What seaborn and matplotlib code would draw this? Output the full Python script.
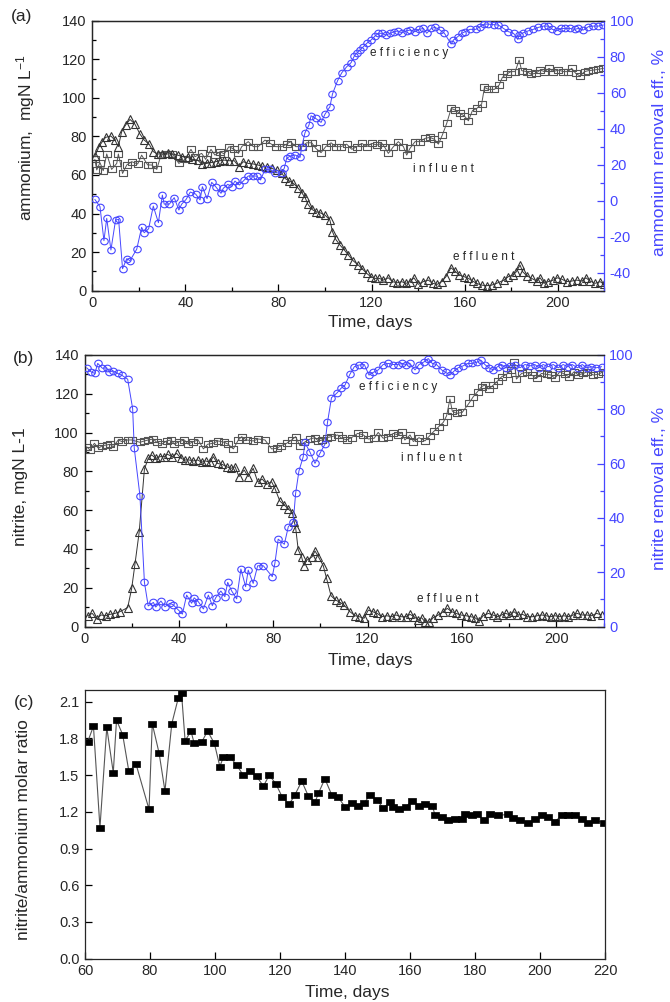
import matplotlib
matplotlib.use("Agg")
import matplotlib.pyplot as plt
from matplotlib.path import Path
from matplotlib.ticker import MultipleLocator
import seaborn as sns

# ---------------- panel (a): ammonium ----------------
a_inf_day = [1.1, 1.9, 3.3, 4.7, 6.2, 8.3, 10.5, 11.2, 13.0, 14.8, 16.9, 19.5, 21.2, 23.8, 25.5, 27.7,
             29.5, 31.9, 34.4, 37.2, 39.8, 42.4, 44.1, 47.0, 48.7, 51.0, 52.7, 54.9, 56.7, 58.7, 61.0,
             62.8, 64.2, 67.0, 69.2, 71.3, 74.2, 76.4, 78.8, 81.4, 83.5, 85.2, 87.4, 90.0, 92.1, 94.3,
             96.0, 98.3, 100.3, 102.6, 104.6, 106.9, 109.3, 111.5, 113.6, 115.8, 117.9, 120.1, 122.2,
             124.4, 125.5, 127.2, 129.4, 131.5, 133.7, 135.1, 136.5, 138.7, 140.8, 143.0, 145.1, 147.0,
             148.7, 150.4, 152.3, 154.2, 155.9, 158.0, 159.9, 161.6, 163.3, 165.2, 167.3, 168.5, 170.2,
             172.8, 174.8, 176.2, 178.1, 179.8, 181.7, 183.4, 184.5, 186.7, 188.5, 190.5, 192.4, 194.3,
             196.3, 198.1, 200.3, 202.4, 204.3, 206.0, 207.7, 209.6, 211.5, 213.2, 215.3, 217.5, 219.6]
a_inf_val = [68.1, 62.6, 66.4, 62.2, 70.9, 62.9, 66.0, 70.9, 60.8, 65.2, 66.9, 65.7, 70.3, 65.2, 65.2, 62.9,
             70.3, 70.9, 70.9, 66.0, 68.1, 73.3, 69.5, 71.2, 68.1, 73.3, 70.3, 72.1, 70.9, 74.7, 73.3,
             71.2, 74.7, 77.3, 74.7, 74.7, 78.1, 76.4, 74.7, 74.7, 76.0, 77.3, 74.7, 74.7, 76.7, 76.7,
             73.8, 71.6, 74.7, 76.7, 74.7, 74.7, 76.0, 73.3, 74.7, 76.4, 74.7, 76.4, 75.5,
             76.4, 74.7, 71.2, 74.7, 77.3, 74.7, 70.3, 73.8, 77.3, 77.3, 79.0, 79.5, 78.5,
             76.0, 80.7, 86.8, 94.5, 93.7, 91.9, 90.6, 88.1, 93.3, 94.5, 96.8, 105.4, 104.4,
             104.4, 106.6, 110.6, 112.3, 113.6, 113.6, 119.6, 114.1, 113.6, 112.3, 112.7, 114.4, 113.6,
             115.3, 113.6, 114.4, 113.6, 113.6, 115.3, 112.7, 111.3, 113.6, 114.1, 114.4, 114.8, 115.3]

a_eff_day = [1.1, 2.9, 4.3, 5.7, 8.0, 9.7, 11.2, 12.6, 14.3, 16.2, 18.3, 20.5, 22.3, 24.4, 26.2, 28.1,
             30.1, 32.4, 34.4, 36.7, 38.7, 41.0, 43.0, 45.3, 47.0, 49.1, 51.0, 53.0, 54.9, 56.7, 58.7,
             61.0, 63.0, 64.9, 67.0, 69.2, 71.1, 72.8, 74.9, 77.1, 79.2, 81.4, 82.8, 84.5, 86.4, 88.5,
             90.0, 91.4, 92.6, 94.3, 96.0, 97.9, 100.0, 102.1, 103.2, 104.6, 106.4, 108.3, 110.0,
             112.2, 114.3, 116.1, 117.9, 119.6, 121.4, 123.3, 125.0, 127.2, 129.0, 131.0, 132.9,
             134.8, 136.5, 138.2, 140.1, 142.2, 144.4, 146.2, 148.2, 150.1, 152.0, 154.1, 155.8,
             157.7, 159.7, 161.6, 163.4, 165.1, 167.3, 169.4, 171.6, 173.7, 176.9, 178.8, 180.6,
             182.0, 183.8, 184.9, 186.6, 188.8, 190.9, 192.4, 194.1, 195.9, 198.1, 199.8, 201.7,
             203.8, 206.0, 208.1, 210.3, 212.1, 213.9, 216.0, 218.2, 219.9]
a_eff_val = [69.8, 74.7, 77.3, 79.5, 80.2, 78.1, 74.7, 82.4, 85.9, 88.8, 86.4, 81.2, 78.1, 76.0, 72.1, 70.9,
             70.9, 71.6, 70.9, 70.3, 69.5, 69.1, 68.1, 67.7, 65.7, 66.0, 66.4, 66.9, 67.4, 67.7, 67.4,
             67.4, 64.3, 66.9, 66.0, 65.7, 65.2, 64.6, 64.3, 63.4, 62.6, 61.2, 58.2, 57.0, 55.7, 53.1,
             50.8, 48.4, 44.9, 42.2, 41.0, 40.4, 39.2, 36.6, 30.6, 26.6, 23.7, 21.1, 18.5,
             15.4, 13.3, 11.2, 9.0, 7.3, 6.4, 6.4, 5.5, 6.7, 4.7, 4.1, 4.7,
             3.8, 4.7, 6.7, 3.3, 4.7, 5.5, 3.8, 3.3, 4.7, 7.3, 11.9, 10.2,
             8.1, 7.3, 6.4, 5.0, 3.8, 2.9, 2.6, 2.9, 3.8, 5.5, 7.3, 8.1,
             9.5, 13.3, 9.9, 7.8, 6.4, 5.0, 6.7, 3.8, 4.7, 5.5, 6.7, 6.0,
             4.7, 5.0, 5.5, 5.0, 6.7, 5.0, 3.8, 4.7, 3.3]

a_rem_day = [1.1, 3.3, 5.0, 6.2, 8.0, 10.0, 11.3, 13.0, 14.8, 16.2, 19.1, 21.2, 22.3, 24.2, 26.2, 28.4,
             30.1, 30.9, 33.1, 35.2, 37.2, 38.4, 40.3, 42.1, 44.4, 46.3, 47.3, 49.3, 51.3, 53.0, 55.3,
             56.3, 58.2, 59.9, 61.3, 63.2, 65.3, 67.0, 69.2, 70.6, 72.3, 74.2, 76.4, 78.5, 81.4, 82.5,
             83.5, 85.0, 87.1, 89.3, 90.0, 91.4, 93.1, 94.0, 96.0, 98.3, 100.0, 102.1, 103.2, 105.4,
             107.2, 109.3, 111.2, 112.6, 113.6, 115.0, 116.5, 117.9, 119.8, 121.5, 122.9, 124.6,
             126.1, 128.0, 129.8, 131.2, 133.0, 135.1, 136.5, 138.7, 140.4, 142.3, 143.7, 145.6,
             147.3, 149.4, 151.3, 154.2, 155.2, 157.0, 158.7, 160.2, 162.3, 164.8, 166.6, 168.5,
             170.2, 172.4, 174.5, 176.7, 178.8, 181.0, 182.8, 183.4, 185.2, 187.4, 189.5, 191.7,
             193.9, 196.0, 197.7, 199.6, 201.4, 203.2, 205.3, 207.2, 208.9, 211.0, 213.2, 215.3,
             217.5, 219.6]
a_rem_val = [0.7, -3.3, -22.2, -9.8, -27.4, -10.7, -10.4, -37.8, -32.2, -33.3, -26.9, -14.8, -17.8, -15.6,
             -3.0, -12.2, 3.1, -1.9, -1.9, 1.7, -5.2, -1.9, 0.7, 4.8, 3.7, 0.4, 7.8, 1.1, 10.2, 7.8, 4.1,
             6.9, 9.1, 7.8, 10.9, 8.7, 11.5, 13.7, 13.7, 13.7, 11.5, 17.4, 17.4, 15.6, 15.2, 18.1,
             23.5, 24.8, 25.4, 24.1, 30.0, 37.8, 42.0, 47.2, 45.7, 43.5, 48.1, 52.2, 59.3, 66.7,
             71.1, 74.4, 76.7, 80.4, 81.9, 83.7, 85.6, 87.4, 89.3, 91.5, 93.0, 93.0,
             92.0, 93.0, 93.9, 94.3, 93.3, 94.4, 94.8, 93.9, 95.2, 95.7, 93.0, 95.7,
             96.3, 94.8, 93.0, 87.0, 89.3, 91.1, 93.0, 93.9, 95.2, 95.2, 96.7, 98.1,
             98.1, 97.8, 97.6, 95.7, 93.9, 93.0, 89.6, 92.0, 93.3, 94.4, 95.2, 96.3,
             97.0, 97.0, 95.2, 94.4, 95.7, 95.7, 95.7, 95.2, 95.7, 94.8, 96.7, 97.0,
             97.0, 97.6]

# ---------------- panel (b): nitrite ----------------
b_inf_day = [0.9, 2.3, 4.2, 5.9, 7.6, 9.4, 10.8, 12.2, 14.3, 16.0, 18.3, 20.0, 23.5, 25.4, 27.0, 29.2,
             30.6, 32.7, 34.8, 36.7, 38.1, 40.0, 42.3, 44.0, 46.1, 48.2, 50.4, 52.2, 54.6, 56.7, 59.3,
             60.9, 63.1, 65.2, 66.6, 68.7, 71.5, 73.7, 76.5, 79.3, 81.4, 83.5, 85.7, 87.8, 89.5, 91.3,
             93.2, 95.6, 97.7, 99.1, 100.8, 102.6, 104.7, 107.3, 109.0, 111.1, 113.2, 115.8, 118.2,
             120.3, 122.8, 124.5, 126.6, 128.8, 130.9, 133.0, 134.4, 135.8, 138.0, 139.4, 141.8, 144.3,
             146.4, 148.3, 150.2, 152.1, 153.5, 154.9, 155.9, 157.7, 160.1, 162.9, 164.8, 166.6, 168.3,
             169.7, 171.4, 173.3, 175.1, 176.8, 178.9, 181.0, 182.2, 183.1, 185.3, 187.4, 189.5, 191.6,
             193.7, 195.9, 197.7, 199.4, 201.5, 203.6, 205.3, 207.6, 209.3, 211.4, 213.2, 215.6, 217.7,
             219.9]
b_inf_val = [92.7, 91.1, 94.5, 91.9, 93.3, 93.6, 94.0, 92.7, 96.2, 95.3, 96.2, 96.2, 95.0, 95.7, 96.2, 96.7,
             95.0, 94.0, 95.7, 96.2, 94.0, 95.3, 96.2, 94.0, 95.3, 96.2, 91.6, 94.0, 94.5, 95.7, 95.0,
             94.0, 91.6, 96.2, 97.9, 96.2, 95.7, 96.7, 96.2, 91.6, 91.9, 93.3, 94.5, 96.2, 97.9, 93.3,
             95.0, 96.7, 97.4, 95.7, 96.2, 97.4, 97.9, 98.8, 97.1, 96.2, 97.4, 99.6, 98.8,
             96.7, 97.1, 100.1, 97.1, 97.9, 99.6, 98.8, 100.1, 96.2, 98.8, 95.4, 97.4, 95.7,
             98.5, 100.9, 103.1, 105.3, 108.7, 117.3, 111.1, 109.9, 110.4, 115.0, 118.5, 121.1, 123.7,
             124.5, 122.5, 124.5, 126.6, 128.8, 130.0, 132.3, 136.2, 127.6, 130.5, 131.1, 129.7, 128.0,
             130.5, 130.0, 129.7, 128.0, 131.4, 130.0, 128.8, 131.4, 129.7, 130.5, 131.4, 129.7, 130.0,
             131.4]

b_eff_day = [1.3, 3.3, 5.2, 7.0, 9.0, 10.8, 12.9, 15.0, 18.3, 20.0, 21.4, 23.2, 25.4, 27.0, 28.5, 30.2,
             32.0, 33.8, 35.2, 37.2, 39.1, 40.9, 42.6, 44.3, 46.1, 48.0, 49.6, 51.3, 53.2, 54.6, 56.4,
             58.4, 60.2, 62.1, 63.8, 65.5, 67.7, 69.4, 71.5, 73.4, 75.4, 77.2, 79.3, 80.7, 82.8, 84.7,
             86.4, 88.1, 88.9, 89.5, 90.6, 92.0, 93.0, 94.3, 96.5, 97.7, 99.1, 101.2, 102.6, 104.5,
             106.4, 108.3, 110.1, 112.5, 114.7, 116.5, 118.5, 120.3, 122.1, 124.1, 126.0, 128.1,
             130.2, 132.0, 134.0, 136.3, 138.0, 139.7, 141.5, 142.9, 144.3, 146.2, 147.8, 150.0,
             152.1, 153.8, 155.6, 157.5, 159.4, 161.7, 163.7, 165.5, 167.3, 169.0, 171.2, 173.0,
             175.0, 176.8, 178.6, 180.3, 182.0, 183.9, 185.7, 187.7, 189.9, 191.9, 193.8, 195.6,
             197.6, 199.4, 201.2, 203.2, 205.0, 207.2, 208.9, 210.7, 212.8, 214.9, 217.1, 219.2]
b_eff_val = [5.6, 6.8, 3.9, 6.0, 5.6, 6.3, 6.8, 7.7, 9.8, 19.7, 32.3, 48.9, 81.2, 86.7, 88.5, 86.7,
             87.6, 87.6, 88.8, 87.6, 89.3, 86.7, 85.9, 85.9, 85.4, 85.9, 84.7, 85.4, 84.7, 87.6, 84.1,
             83.6, 82.4, 81.6, 82.4, 77.3, 80.7, 77.3, 81.6, 74.7, 76.0, 73.3, 74.7, 71.3, 64.7, 62.7,
             60.6, 58.8, 54.1, 51.0, 39.5, 36.0, 31.4, 34.3, 36.0, 39.0, 36.1, 31.4, 24.9, 15.9,
             13.7, 12.5, 11.0, 7.7, 5.6, 5.1, 4.3, 8.5, 7.7, 6.8, 5.1, 5.6,
             5.1, 6.0, 5.1, 5.1, 6.3, 5.1, 3.4, 4.6, 2.5, 2.2, 4.6, 6.0,
             7.7, 9.4, 7.7, 6.8, 6.0, 5.6, 5.1, 4.6, 2.9, 5.6, 6.8, 6.0,
             5.1, 6.0, 6.8, 6.0, 7.7, 6.0, 6.3, 5.1, 5.1, 5.6, 6.0, 5.6,
             5.1, 5.6, 5.1, 5.6, 5.1, 6.0, 6.8, 6.0, 6.0, 5.6, 6.8, 6.0]

b_rem_day = [0.9, 2.8, 4.4, 5.6, 7.6, 9.4, 10.4, 12.2, 14.1, 15.7, 18.3, 20.4, 21.1, 23.5, 25.4, 27.0,
             29.2, 30.2, 32.4, 34.1, 36.2, 37.6, 39.8, 41.5, 43.3, 45.4, 46.5, 48.2, 50.4, 52.5, 54.2,
             55.6, 57.8, 59.5, 60.7, 62.4, 64.5, 66.3, 68.3, 69.4, 71.5, 73.4, 75.8, 79.6, 80.7, 82.1,
             84.7, 86.4, 88.5, 89.5, 90.9, 92.7, 93.4, 95.6, 97.7, 99.8, 101.9, 103.0, 104.7, 106.9,
             108.7, 110.4, 112.5, 114.4, 116.3, 118.6, 120.6, 122.4, 124.5, 126.6, 128.8, 130.9,
             132.7, 134.7, 136.1, 137.9, 140.1, 141.8, 144.0, 145.7, 147.4, 149.2, 151.4, 153.1,
             154.9, 156.7, 158.4, 160.5, 162.4, 164.4, 166.2, 168.0, 169.7, 171.4, 173.3, 175.1,
             176.8, 178.5, 180.3, 182.4, 184.6, 186.7, 188.8, 190.9, 192.6, 194.4, 196.6, 198.7,
             200.8, 202.9, 204.8, 206.7, 209.0, 211.0, 212.8, 214.9, 217.0, 219.2]
b_rem_val = [95.3, 93.8, 93.2, 96.9, 95.1, 95.3, 93.8, 94.1, 93.2, 92.6, 91.1, 80.3, 65.6, 48.2, 16.3, 7.6,
             8.9, 7.2, 9.4, 7.3, 8.6, 8.0, 6.1, 4.6, 11.6, 8.6, 10.6, 9.2, 6.5, 11.6, 7.7,
             10.6, 13.1, 11.0, 16.3, 13.1, 10.2, 21.2, 14.7, 20.8, 15.9, 22.4, 22.4, 18.4, 23.3, 32.2,
             30.3, 36.8, 38.6, 49.1, 57.3, 62.5, 67.8, 64.2, 60.1, 63.8, 67.1, 75.2, 84.3, 85.9,
             87.7, 88.9, 92.9, 95.7, 96.3, 96.5, 92.6, 93.6, 94.5, 96.5, 96.9, 96.5,
             96.5, 96.9, 96.5, 96.9, 94.5, 96.5, 97.5, 98.7, 96.9, 96.5, 94.5, 93.6,
             92.6, 94.1, 95.3, 96.0, 96.9, 96.9, 97.3, 98.1, 96.5, 95.3, 94.5, 95.7,
             96.5, 95.3, 96.0, 96.5, 95.3, 96.5, 96.0, 96.5, 95.3, 96.5, 95.7, 96.5,
             95.3, 96.5, 95.7, 96.5, 95.3, 96.5, 95.3, 95.7, 95.3, 95.7]

# ---------------- panel (c): nitrite/ammonium molar ratio ----------------
c_day = [60.8, 62.6, 64.6, 66.7, 68.7, 69.7, 71.6, 73.5, 75.7, 79.7, 80.7, 82.8, 84.6, 86.7, 88.7, 89.7,
         90.8, 92.6, 93.6, 95.9, 97.7, 99.8, 101.5, 102.6, 104.6, 106.7, 108.7, 110.8, 112.8, 114.9,
         116.7, 118.7, 120.7, 122.8, 124.6, 126.7, 128.7, 130.8, 131.8, 133.8, 135.9, 137.9, 140.0,
         142.1, 143.9, 145.9, 147.7, 149.7, 151.8, 153.8, 154.9, 156.6, 158.7, 160.7, 162.8, 164.6,
         166.9, 167.7, 169.7, 171.8, 173.8, 175.9, 176.9, 179.0, 180.5, 182.9, 184.6, 187.2, 190.3,
         191.8, 193.8, 196.4, 198.5, 200.7, 202.6, 204.6, 206.7, 208.7, 210.8, 212.8, 214.9, 216.9,
         219.8]
c_ratio = [1.77, 1.90, 1.07, 1.89, 1.52, 1.95, 1.83, 1.53, 1.59, 1.22, 1.92, 1.68, 1.37, 1.92, 2.13, 2.17,
           1.78, 1.86, 1.76, 1.77, 1.86, 1.76, 1.57, 1.65, 1.65, 1.58, 1.50, 1.53, 1.49, 1.41,
           1.50, 1.43, 1.32, 1.26, 1.34, 1.45, 1.33, 1.28, 1.35, 1.47, 1.34, 1.32, 1.24,
           1.27, 1.25, 1.27, 1.34, 1.30, 1.23, 1.28, 1.24, 1.22, 1.24, 1.29, 1.25, 1.26,
           1.25, 1.17, 1.16, 1.13, 1.14, 1.14, 1.18, 1.17, 1.18, 1.13, 1.18, 1.17, 1.18,
           1.15, 1.13, 1.11, 1.14, 1.17, 1.16, 1.12, 1.17, 1.17, 1.17, 1.14, 1.11, 1.13,
           1.11]

BLUE = "#4646ff"
GRAY = "#555555"
DARK = "#333333"
W, H = 670, 1002


def fx(px):
    return px / W


def fy(py):
    return 1 - py / H


def box(left, top, right, bottom):
    return [fx(left), fy(bottom), fx(right) - fx(left), fy(top) - fy(bottom)]


sns.set_theme(style="ticks")
plt.rcParams["font.family"] = ["Liberation Sans", "DejaVu Sans"]
plt.rcParams["mathtext.fontset"] = "custom"
plt.rcParams["mathtext.rm"] = "Liberation Sans"
plt.rcParams["mathtext.it"] = "Liberation Sans"
plt.rcParams["axes.linewidth"] = 0.9
plt.rcParams["axes.unicode_minus"] = False

squash = Path([(-1, -0.85), (1, -0.85), (1, 0.85), (-1, 0.85), (-1, -0.85)], closed=True)
ellipse = Path.unit_circle().transformed(matplotlib.transforms.Affine2D().scale(1.0, 0.88))
flat_sq = Path([(-1, -0.7), (1, -0.7), (1, 0.7), (-1, 0.7), (-1, -0.7)], closed=True)


def series(ax, x, y, marker, color, ms, fill="none", z=2):
    sns.lineplot(x=x, y=y, ax=ax, color=color, linewidth=0.7, marker=marker, markersize=ms,
                 markerfacecolor=fill, markeredgecolor=color, markeredgewidth=0.8,
                 estimator=None, sort=False, zorder=z)


def style_left(ax, ymax, xmin, xmax, xmaj, xmin_step, ymaj, ymin_step):
    ax.set_xlim(xmin, xmax)
    ax.set_ylim(0, ymax)
    ax.xaxis.set_major_locator(MultipleLocator(xmaj))
    ax.yaxis.set_major_locator(MultipleLocator(ymaj))
    if xmin_step:
        ax.xaxis.set_minor_locator(MultipleLocator(xmin_step))
    if ymin_step:
        ax.yaxis.set_minor_locator(MultipleLocator(ymin_step))
    ax.tick_params(which="both", direction="in", top=False, right=False, labelsize=10.5,
                   color="black", width=0.9)
    ax.tick_params(which="major", length=5, pad=4)
    ax.tick_params(which="minor", length=3)
    ax.set_xlabel("")
    ax.set_ylabel("")


def style_right(ax2, lo, hi):
    ax2.set_ylim(lo, hi)
    ax2.yaxis.set_major_locator(MultipleLocator(20))
    ax2.yaxis.set_minor_locator(MultipleLocator(10))
    ax2.tick_params(axis="y", which="both", direction="in", colors=BLUE, labelsize=10.5, width=0.9)
    ax2.tick_params(axis="y", which="major", length=5, pad=4)
    ax2.tick_params(axis="y", which="minor", length=3)
    ax2.spines["right"].set_color(BLUE)
    ax2.set_ylabel("")


fig = plt.figure(figsize=(W / 100, H / 100), dpi=100)

# panel (a)
ax_a = fig.add_axes(box(92.3, 20.7, 604.3, 290.7))
ax_a.spines["right"].set_visible(False)
series(ax_a, a_inf_day, a_inf_val, squash, GRAY, 5.6)
series(ax_a, a_eff_day, a_eff_val, "^", DARK, 6.0)
style_left(ax_a, 140, 0, 220, 40, 20, 20, 10)
ax_a2 = ax_a.twinx()
series(ax_a2, a_rem_day, a_rem_val, ellipse, BLUE, 5.4, z=3)
style_right(ax_a2, -50, 100)
ax_a.text(136, 123, "e f f i c i e n c y", fontsize=8.5, ha="center", va="center")
ax_a.text(151, 63, "i n f l u e n t", fontsize=8.5, ha="center", va="center")
ax_a.text(168, 17.3, "e f f l u e n t", fontsize=8.5, ha="center", va="center")

# panel (b)
ax_b = fig.add_axes(box(84.5, 355, 603.5, 626.6))
ax_b.spines["right"].set_visible(False)
series(ax_b, b_inf_day, b_inf_val, squash, GRAY, 5.6)
series(ax_b, b_eff_day, b_eff_val, "^", DARK, 6.0)
style_left(ax_b, 140, 0, 220, 40, 20, 20, 10)
ax_b2 = ax_b.twinx()
series(ax_b2, b_rem_day, b_rem_val, ellipse, BLUE, 5.4, z=3)
style_right(ax_b2, 0, 100)
ax_b.text(133, 123.7, "e f f i c i e n c y", fontsize=8.5, ha="center", va="center")
ax_b.text(147, 86.8, "i n f l u e n t", fontsize=8.5, ha="center", va="center")
ax_b.text(154, 14.2, "e f f l u e n t", fontsize=8.5, ha="center", va="center")

# panel (c)
ax_c = fig.add_axes(box(85, 689.5, 605, 958.6))
sns.lineplot(x=c_day, y=c_ratio, ax=ax_c, color=GRAY, linewidth=0.8, marker=flat_sq, markersize=5.8,
             markerfacecolor="black", markeredgecolor="black", markeredgewidth=0.5,
             estimator=None, sort=False)
style_left(ax_c, 2.2, 60, 220, 20, None, 0.3, None)
ax_c.yaxis.set_major_formatter(matplotlib.ticker.FormatStrFormatter("%.1f"))

# labels
lab = dict(fontsize=12.5)
fig.text(fx(22), fy(17), "(a)", ha="center", va="center", **lab)
fig.text(fx(23), fy(358), "(b)", ha="center", va="center", **lab)
fig.text(fx(24), fy(702), "(c)", ha="center", va="center", **lab)
fig.text(fx(26), fy(137), "ammonium,  mgN L$^{-1}$", rotation=90, ha="center", va="center", **lab)
fig.text(fx(21), fy(487), "nitrite, mgN L-1", rotation=90, ha="center", va="center", **lab)
fig.text(fx(24), fy(830), "nitrite/ammonium molar ratio", rotation=90, ha="center", va="center", **lab)
fig.text(fx(660), fy(152), "ammonium removal eff., %", rotation=90, ha="center", va="center",
         color=BLUE, **lab)
fig.text(fx(660), fy(488), "nitrite removal eff., %", rotation=90, ha="center", va="center",
         color=BLUE, **lab)
fig.text(fx(370), fy(323), "Time, days", ha="center", va="center", **lab)
fig.text(fx(370), fy(661), "Time, days", ha="center", va="center", **lab)
fig.text(fx(347), fy(992), "Time, days", ha="center", va="center", **lab)

fig.savefig("out.png", dpi=100)
